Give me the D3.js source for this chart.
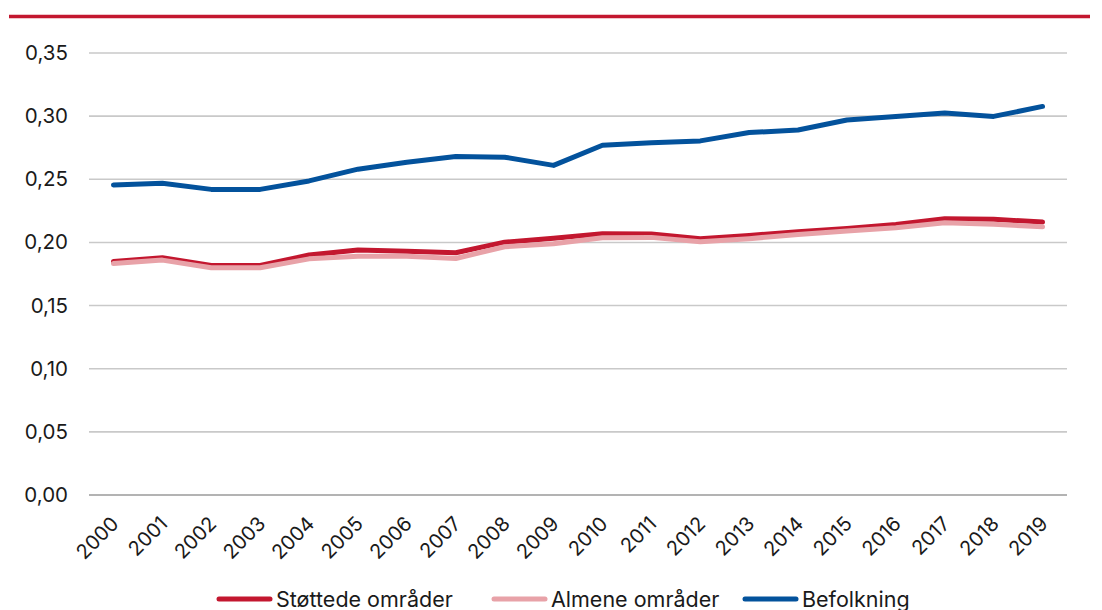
<!DOCTYPE html>
<html><head><meta charset="utf-8">
<script src="https://cdn.jsdelivr.net/npm/d3@7"></script>
<style>
html,body{margin:0;padding:0;background:#fff;}
svg{display:block;font-family:Inter,"Noto Sans",sans-serif;}
</style></head>
<body>
<svg id="chart" width="1102" height="610"></svg>
<script>
const years = ["2000","2001","2002","2003","2004","2005","2006","2007","2008","2009","2010","2011","2012","2013","2014","2015","2016","2017","2018","2019"];
const stottede = [0.185,0.1878,0.1817,0.1817,0.190,0.194,0.193,0.1918,0.2002,0.2034,0.2069,0.2067,0.2029,0.2055,0.2085,0.211,0.2143,0.2188,0.2183,0.2161];
const almene   = [0.1833,0.186,0.180,0.180,0.187,0.189,0.189,0.1873,0.1966,0.199,0.2037,0.204,0.2005,0.203,0.2063,0.209,0.2116,0.2156,0.2143,0.2124];
const befolkning = [0.2455,0.2468,0.242,0.242,0.2487,0.258,0.2635,0.268,0.2675,0.261,0.277,0.279,0.2804,0.287,0.289,0.297,0.2998,0.3024,0.2998,0.3077];
const yTicks = [0,0.05,0.10,0.15,0.20,0.25,0.30,0.35];
const seriesNames = ["Støttede områder","Almene områder","Befolkning"];
const seriesColors = ["#C3172F","#E8A2A8","#03529C"];

const svg = d3.select("#chart");
const mLeft = 89, mRight = 1067, mTop = 53, mBottom = 495;

// top red rule
svg.append("line").attr("x1",9).attr("x2",1090).attr("y1",16.5).attr("y2",16.5)
  .attr("stroke","#C3172F").attr("stroke-width",3.5);

const x = d3.scalePoint().domain(years).range([mLeft, mRight]).padding(0.5);
const y = d3.scaleLinear().domain([0,0.35]).range([mBottom, mTop]);

// gridlines
svg.append("g").selectAll("line").data(yTicks).join("line")
  .attr("x1",mLeft).attr("x2",mRight)
  .attr("y1",d=>y(d)).attr("y2",d=>y(d))
  .attr("stroke",d=>d===0?"#9a9a9a":"#c9c9c9").attr("stroke-width",1.6);

// y axis labels
const yAxis = d3.axisLeft(y).tickValues(yTicks).tickSize(0).tickPadding(0)
  .tickFormat(d=>d3.format(".2f")(d).replace(".",","));
const gy = svg.append("g").attr("transform",`translate(68,0)`).call(yAxis);
gy.select(".domain").remove();
gy.selectAll("text").attr("font-size",20.5).attr("fill","#1a1a1a").attr("font-family","Inter, sans-serif");

// x axis labels
const xAxis = d3.axisBottom(x).tickSize(0).tickPadding(0);
const gx = svg.append("g").attr("transform",`translate(0,${mBottom})`).call(xAxis);
gx.select(".domain").remove();
gx.selectAll("text").attr("font-size",20).attr("fill","#1a1a1a").attr("font-family","Inter, sans-serif")
  .attr("text-anchor","end").attr("dy",null).attr("y",0)
  .attr("transform","translate(6,30) rotate(-45)");

// lines
const line = d3.line().x((d,i)=>x(years[i])).y(d=>y(d));
[stottede, almene, befolkning].forEach((vals,k)=>{
  svg.append("path").datum(vals).attr("d",line).attr("fill","none")
    .attr("stroke",seriesColors[k]).attr("stroke-width",5)
    .attr("stroke-linejoin","round").attr("stroke-linecap","round");
});

// legend
const legX = [217, 492, 743];
const legend = svg.append("g");
seriesNames.forEach((n,k)=>{
  legend.append("line").attr("x1",legX[k]+2).attr("x2",legX[k]+53).attr("y1",599).attr("y2",599)
    .attr("stroke",seriesColors[k]).attr("stroke-width",5).attr("stroke-linecap","round");
  legend.append("text").attr("x",legX[k]+59).attr("y",606.5).attr("font-size",21.5)
    .attr("fill","#1a1a1a").attr("font-family","Inter, sans-serif").text(n);
});
</script>
</body></html>
